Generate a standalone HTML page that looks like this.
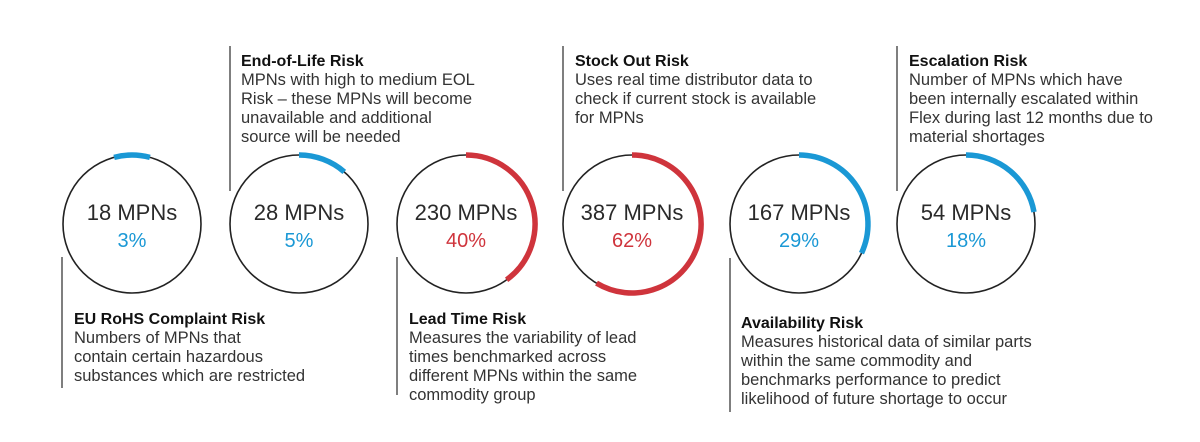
<!DOCTYPE html>
<html><head><meta charset="utf-8"><style>
body{margin:0;background:#fff;}
svg{display:block;font-family:"Liberation Sans",sans-serif;}
.t{font-weight:bold;font-size:16px;fill:#111;}
.b{font-size:16.5px;fill:#333;}
.n{font-size:22px;fill:#2a2a2a;text-anchor:middle;}
.p{font-size:20px;text-anchor:middle;}
</style></head><body>
<svg width="1200" height="442" viewBox="0 0 1200 442">
<g fill="none" stroke="#222" stroke-width="1.6">
<circle cx="132" cy="224" r="69"/><circle cx="299" cy="224" r="69"/><circle cx="466" cy="224" r="69"/>
<circle cx="632" cy="224" r="69"/><circle cx="799" cy="224" r="69"/><circle cx="966" cy="224" r="69"/>
</g>
<g fill="none" stroke-width="5.5">
<path d="M114.1 157.4 A69 69 0 0 1 149.9 157.4" stroke="#1a98d5"/>
<path d="M299 155 A69 69 0 0 1 344.3 171.9" stroke="#1a98d5"/>
<path d="M466 155 A69 69 0 0 1 506.6 279.8" stroke="#cf343c"/>
<path d="M632 155 A69 69 0 1 1 596.5 283.1" stroke="#cf343c"/>
<path d="M799 155 A69 69 0 0 1 861.5 253.2" stroke="#1a98d5"/>
<path d="M966 155 A69 69 0 0 1 1034 212" stroke="#1a98d5"/>
</g>
<g class="n"><text x="132" y="220">18 MPNs</text><text x="299" y="220">28 MPNs</text><text x="466" y="220">230 MPNs</text><text x="632" y="220">387 MPNs</text><text x="799" y="220">167 MPNs</text><text x="966" y="220">54 MPNs</text></g>
<g class="p"><text x="132" y="247" fill="#1a98d5">3%</text><text x="299" y="247" fill="#1a98d5">5%</text><text x="466" y="247" fill="#cf343c">40%</text><text x="632" y="247" fill="#cf343c">62%</text><text x="799" y="247" fill="#1a98d5">29%</text><text x="966" y="247" fill="#1a98d5">18%</text></g>
<g stroke="#555" stroke-width="1.5">
<line x1="230" y1="46" x2="230" y2="191"/><line x1="563" y1="46" x2="563" y2="191"/><line x1="897" y1="46" x2="897" y2="191"/>
<line x1="62" y1="257" x2="62" y2="388"/><line x1="397" y1="257" x2="397" y2="395"/><line x1="730" y1="258" x2="730" y2="412"/>
</g>
<text class="t" x="241" y="66">End-of-Life Risk</text>
<text class="b" x="241" y="85">MPNs with high to medium EOL</text><text class="b" x="241" y="104">Risk – these MPNs will become</text><text class="b" x="241" y="123">unavailable and additional</text><text class="b" x="241" y="142">source will be needed</text>
<text class="t" x="575" y="66">Stock Out Risk</text>
<text class="b" x="575" y="85">Uses real time distributor data to</text><text class="b" x="575" y="104">check if current stock is available</text><text class="b" x="575" y="123">for MPNs</text>
<text class="t" x="909" y="66">Escalation Risk</text>
<text class="b" x="909" y="85">Number of MPNs which have</text><text class="b" x="909" y="104">been internally escalated within</text><text class="b" x="909" y="123">Flex during last 12 months due to</text><text class="b" x="909" y="142">material shortages</text>
<text class="t" x="74" y="324">EU RoHS Complaint Risk</text>
<text class="b" x="74" y="343">Numbers of MPNs that</text><text class="b" x="74" y="362">contain certain hazardous</text><text class="b" x="74" y="381">substances which are restricted</text>
<text class="t" x="409" y="324">Lead Time Risk</text>
<text class="b" x="409" y="343">Measures the variability of lead</text><text class="b" x="409" y="362">times benchmarked across</text><text class="b" x="409" y="381">different MPNs within the same</text><text class="b" x="409" y="400">commodity group</text>
<text class="t" x="741" y="328">Availability Risk</text>
<text class="b" x="741" y="347">Measures historical data of similar parts</text><text class="b" x="741" y="366">within the same commodity and</text><text class="b" x="741" y="385">benchmarks performance to predict</text><text class="b" x="741" y="404">likelihood of future shortage to occur</text>
</svg>
</body></html>
